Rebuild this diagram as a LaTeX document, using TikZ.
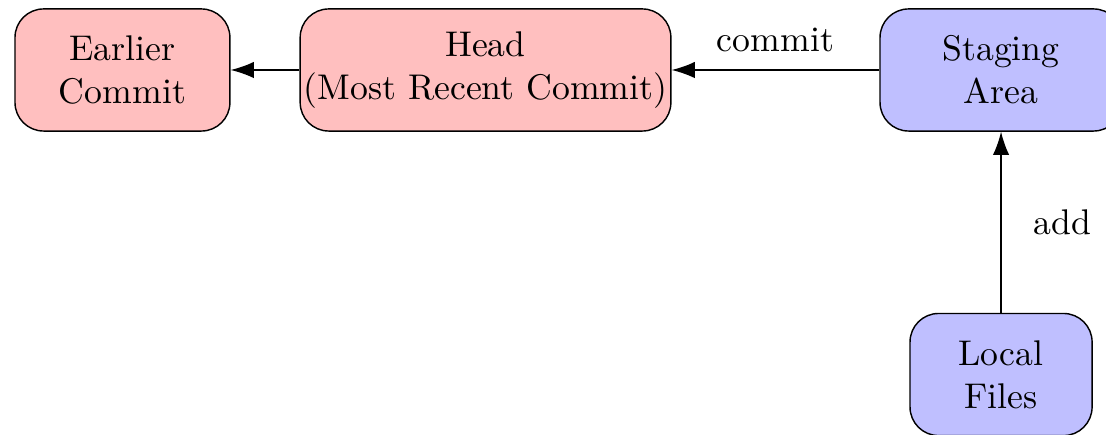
\documentclass[tikz,border=0pt]{standalone}
\usetikzlibrary{arrows.meta}
\tikzset{
  commitbox/.style={draw, rounded corners=8pt, fill=red!25, align=center,
    inner xsep=3pt, minimum height=34.2pt},
  gitbox/.style={draw, rounded corners=8pt, fill=blue!25, align=center,
    inner xsep=3pt, minimum height=34.2pt},
  flow/.style={-{Latex[length=6.5pt,width=4.6pt]}}
}
\begin{document}
\begin{tikzpicture}
        \useasboundingbox (0,0) rectangle (309.8pt,-121.6pt);
        \clip (0,0) rectangle (309.8pt,-121.6pt);

        \node[commitbox, minimum width=60.2pt] (earlier)
        at (34.3pt,-19.6pt) {Earlier\\Commit};
        \node[commitbox, inner xsep=1pt] (head)
        at (136.0pt,-19.6pt) {Head\\(Most Recent Commit)};
        \node[gitbox, minimum width=67.8pt] (staging)
        at (280.4pt,-19.6pt) {Staging\\Area};
        \node[gitbox, minimum width=51pt] (local)
        at (280.4pt,-104.9pt) {Local\\Files};

        \draw[flow] (head) -- (earlier);
        \draw[flow] (staging) -- node[above, yshift=1.4pt]{commit} (head);
        \draw[flow] (local) -- node[right, xshift=5.5pt]{add} (staging);
\end{tikzpicture}
\end{document}
